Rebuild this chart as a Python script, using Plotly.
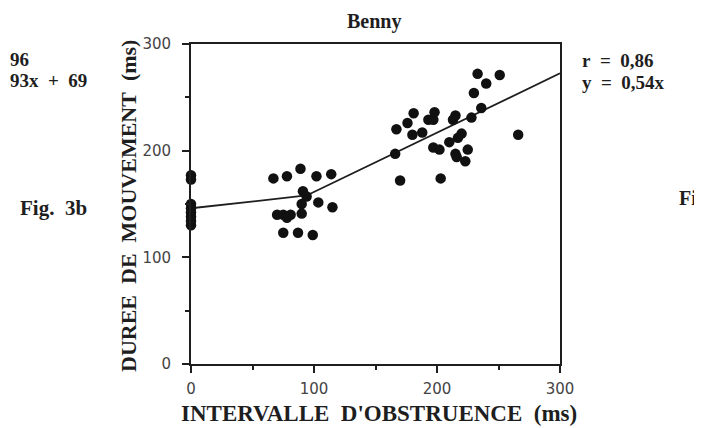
import plotly.graph_objects as go

# Data
x_zero = [0, 0, 0, 0, 0, 0, 0, 0]
y_zero = [177, 173, 150, 146, 142, 138, 134, 130]

x_mid = [67, 78, 89, 102, 114, 91, 94, 90, 103.5, 115, 90, 70, 75, 78, 81, 75, 87, 99]
y_mid = [174, 176, 183, 176, 178, 162, 157, 150, 151.5, 147, 141, 140, 140, 137, 140, 123, 123, 121]

x_high = [233, 251, 240, 230, 181, 198, 176, 193, 197, 215, 213, 228, 236, 167, 180, 188,
          220, 217, 210, 197, 202, 215, 216, 225, 223, 166, 170, 203, 266]
y_high = [272, 271, 263, 254, 235, 236, 226, 229, 229, 233, 229, 231, 240, 220, 215, 217,
          216, 212, 208, 203, 201, 197, 194, 201, 190, 197, 172, 174, 215]

line1_x = [0, 94]
line1_y = [146, 158]
line2_x = [94, 300]
line2_y = [158, 272.5]

x_ticks = [0, 100, 200, 300]
y_ticks = [0, 100, 200, 300]

serif = "Liberation Serif"
sans = "DejaVu Sans"
ink = "#1e1e1e"

# page offset (body margin of 8px) compensated via margins; plot area in page px:
PL, PR, PT, PB = 191, 560, 44, 364


def px(x):
    return (x - PL) / (PR - PL)


def py(y):
    return (PB - y) / (PB - PT)


fig = go.Figure()
fig.add_trace(go.Scatter(x=line1_x, y=line1_y, mode="lines",
                         line=dict(color=ink, width=1.8), showlegend=False))
fig.add_trace(go.Scatter(x=line2_x, y=line2_y, mode="lines",
                         line=dict(color=ink, width=1.8), showlegend=False))
fig.add_trace(go.Scatter(x=x_zero + x_mid + x_high, y=y_zero + y_mid + y_high,
                         mode="markers", cliponaxis=False,
                         marker=dict(color="#111", size=10.5), showlegend=False))

axis_common = dict(showgrid=False, zeroline=False, showline=True, linecolor=ink,
                   linewidth=1.8, mirror=True, ticks="outside", ticklen=7, tickwidth=1.8,
                   tickcolor=ink, tickfont=dict(family=sans, size=15, color="#444"),
                   minor=dict(ticks="outside", ticklen=4, tickwidth=1.8, dtick=50,
                              tickcolor=ink, showgrid=False))

fig.update_xaxes(range=[0, 300], tickvals=x_ticks, ticklabelstandoff=3, **axis_common)
fig.update_yaxes(range=[0, 300], tickvals=y_ticks, ticklabelstandoff=8, **axis_common)


def txt(s, x, y, size, xanchor="center", angle=0):
    return dict(text="<b>" + s + "</b>", x=px(x), y=py(y), xref="paper", yref="paper",
                xanchor=xanchor, yanchor="middle", textangle=angle, showarrow=False,
                font=dict(family=serif, size=size, color=ink))


nb = "\u00a0"
annots = [
    txt("Benny", 374, 21, 20),
    txt("INTERVALLE" + nb * 2 + "D'OBSTRUENCE" + nb * 2 + "(ms)", 379, 413, 23),
    txt("DUREE" + nb * 2 + "DE" + nb * 2 + "MOUVEMENT" + nb * 2 + "(ms)", 128, 206, 22, angle=-90),
    txt("r" + nb * 2 + "=" + nb * 2 + "0,86", 580, 61, 19, xanchor="left"),
    txt("y" + nb * 2 + "=" + nb * 2 + "0,54x", 580, 82, 19, xanchor="left"),
    txt("96", 8, 59, 19, xanchor="left"),
    txt("93x" + nb * 2 + "+" + nb * 2 + "69", 8, 80, 19, xanchor="left"),
    txt("Fig." + nb * 2 + "3b", 18, 208, 21, xanchor="left"),
    txt("Fi", 677, 198, 20, xanchor="left"),
]

fig.update_layout(width=694, height=420,
                  margin=dict(l=PL - 8, r=702 - PR, t=PT - 8, b=428 - PB),
                  paper_bgcolor="white", plot_bgcolor="white", annotations=annots)

fig.write_html("out.html")
